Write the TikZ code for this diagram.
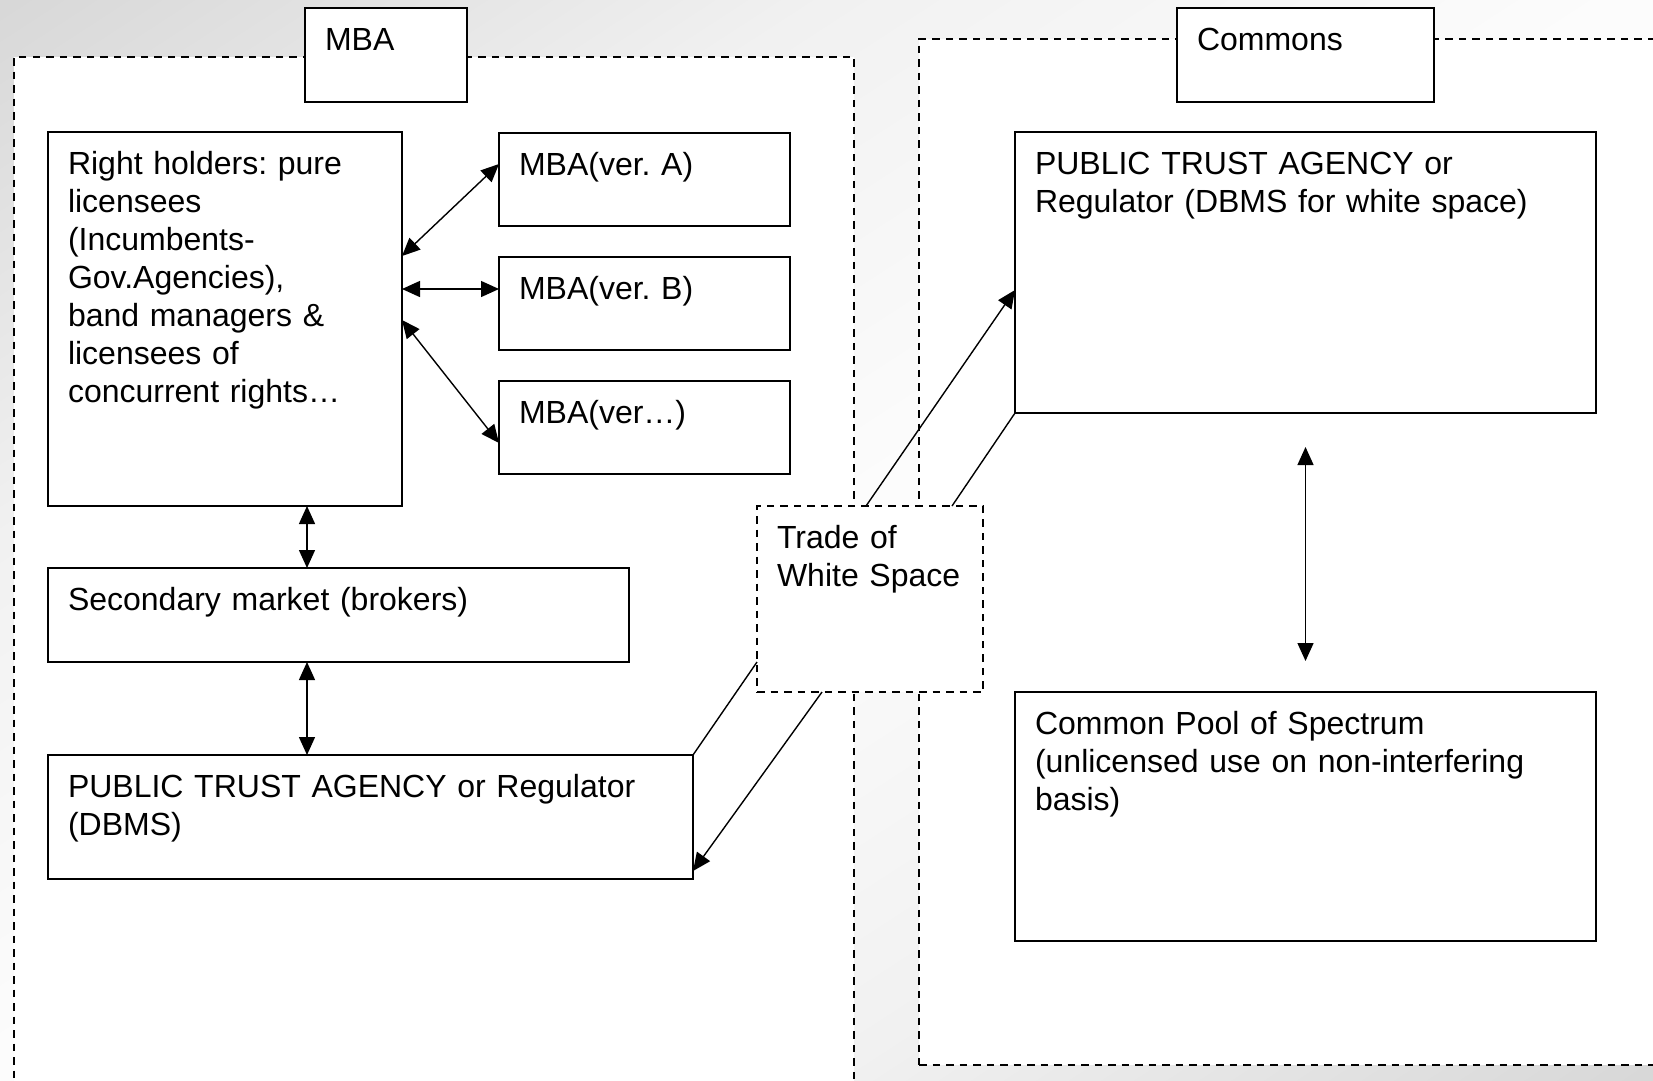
\documentclass[tikz,border=0pt]{standalone}
\usepackage{fontspec}
\setmainfont{Liberation Sans}
\usepackage{tikz}
\usetikzlibrary{positioning, arrows.meta, calc}
\frenchspacing

\definecolor{bgdark}{gray}{0.845}
\definecolor{bgmid}{gray}{0.945}
\definecolor{bglight}{gray}{0.99}
\pgfdeclareverticalshading{bgshade}{100bp}{color(0bp)=(bgdark); color(25bp)=(bgdark);
  color(37.5bp)=(bgmid); color(50bp)=(bglight); color(62.5bp)=(bgmid);
  color(75bp)=(bgdark); color(100bp)=(bgdark)}

\tikzset{
  blk/.style={draw, line width=1.6pt, fill=white, anchor=north west, align=left,
    inner xsep=20pt, inner ysep=0pt, outer sep=0pt, text height=42pt},
  zone/.style={draw, line width=1.8pt, dash pattern=on 7.5pt off 6pt, fill=white,
    anchor=north west, inner sep=0pt, outer sep=0pt},
  link/.style={line width=1.4pt}
}

\begin{document}
\begin{tikzpicture}[x=1pt, y=-1pt, font=\fontsize{32}{38}\selectfont,
    >={Triangle[length=18pt, width=16pt]}]
  \useasboundingbox (0,0) rectangle (1653,1080);
  \begin{scope}
    \clip (0,0) rectangle (1653,1080);
    \fill[shading=bgshade, transform canvas={rotate around={33:(826.5,540)}}]
      (-200,-364) rectangle (1853,1444);
  \end{scope}

  % the two zones
  \node[zone, minimum width=840pt, minimum height=1100pt] (mbazone) at (14,57) {};
  \node[zone, minimum width=800pt, minimum height=1026pt] (comzone) at (919,39) {};

  % zone titles
  \node[blk, text width=122pt, text depth=52pt] (mbatitle) at (305,8) {MBA};
  \node[blk, text width=217pt, text depth=52pt] (comtitle) at (1177,8) {Commons};

  % MBA side
  \node[blk, text width=314pt, text depth=332pt] (holders) at (48,132)
    {Right holders: pure\\ licensees\\ (Incumbents-\\ Gov.Agencies),\\ band managers \&\\ licensees of\\ concurrent rights…};
  \node[blk, text width=251pt, text depth=51pt] (vera) at (499,133) {MBA(ver. A)};
  \node[blk, text width=251pt, text depth=51pt] (verb) at (499,257) {MBA(ver. B)};
  \node[blk, text width=251pt, text depth=51pt] (verx) at (499,381) {MBA(ver…)};
  \node[blk, text width=541pt, text depth=52pt] (broker) at (48,568) {Secondary market (brokers)};
  \node[blk, text width=605pt, text depth=82pt] (ptaleft) at (48,755)
    {PUBLIC TRUST AGENCY or Regulator\\ (DBMS)};

  % Commons side
  \node[blk, text width=541pt, text depth=239pt] (ptaright) at (1015,132)
    {PUBLIC TRUST AGENCY or\\ Regulator (DBMS for white space)};
  \node[blk, text width=541pt, text depth=207pt] (pool) at (1015,692)
    {Common Pool of Spectrum\\ (unlicensed use on non-interfering\\ basis)};

  % in between
  \node[blk, dash pattern=on 7.5pt off 6pt, text width=186pt, text depth=144pt] (trade) at (757,506)
    {Trade of\\ White Space};

  \draw[<->, link] ($(holders.north east)+(0,124)$) -- ($(vera.north west)+(0,31)$);
  \draw[<->, link] ($(holders.north east)+(0,157)$) -- ($(verb.north west)+(0,32)$);
  \draw[<->, link] ($(holders.north east)+(0,188)$) -- ($(verx.north west)+(0,62)$);
  \draw[<->, link] ($(holders.south west)+(259,0)$) -- ($(broker.north west)+(259,0)$);
  \draw[<->, link] ($(broker.south west)+(259,0)$) -- ($(ptaleft.north west)+(259,0)$);

  \draw[->, link] ($(trade.north west)+(109,0)$) -- ($(ptaright.north west)+(0,158)$);
  \draw[link] ($(trade.north west)+(195,0)$) -- (ptaright.south west);
  \draw[link] ($(trade.north west)+(0,156)$) -- (ptaleft.north east);
  \draw[->, link] ($(trade.south west)+(65,0)$) -- ($(ptaleft.south east)+(0,-8)$);

  \draw[<->, link] ($(ptaright.south)+(0,34)$) -- ($(pool.north)+(0,-31)$);
\end{tikzpicture}
\end{document}
